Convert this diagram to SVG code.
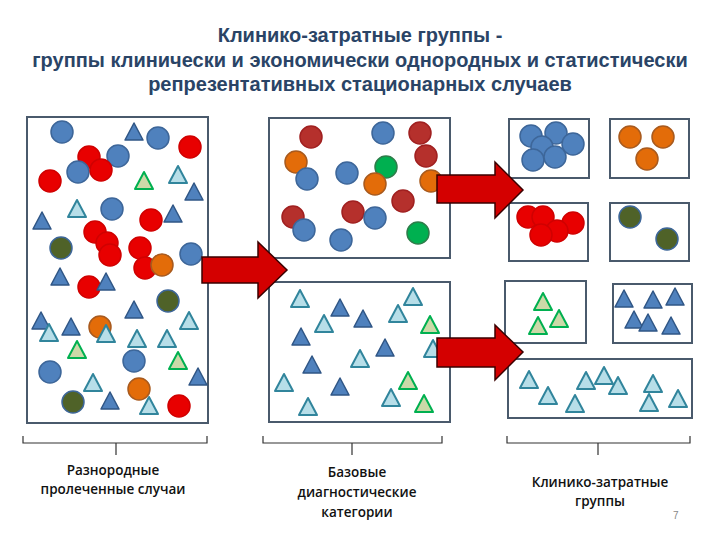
<svg xmlns="http://www.w3.org/2000/svg" xmlns:xlink="http://www.w3.org/1999/xlink" width="720" height="540" viewBox="0 0 720 540">
<style>
.title{font-family:"Liberation Sans",Arial,sans-serif;font-weight:bold;font-size:20px;fill:#2A4466;text-anchor:middle}
.lbl{font-family:"Open Sans","Liberation Sans",sans-serif;font-weight:600;font-size:13.5px;fill:#111;text-anchor:middle}
.box{fill:#fff;stroke:#4A5A6C;stroke-width:2}
.brace{fill:none;stroke:#333;stroke-width:1.2}
.arrow{fill:#D40000;stroke:#3A0000;stroke-width:1.5;stroke-linejoin:miter}
</style>
<defs>
<circle id="cb" r="11" fill="#4F81BD" stroke="#3D6699" stroke-width="1.5"/>
<circle id="cr" r="11" fill="#E80000" stroke="#D00000" stroke-width="1.5"/>
<circle id="cd" r="11" fill="#B5302C" stroke="#A02020" stroke-width="1.5"/>
<circle id="co" r="11" fill="#E36C09" stroke="#A85A1E" stroke-width="1.5"/>
<circle id="cg" r="11" fill="#00B050" stroke="#2E7D4A" stroke-width="1.5"/>
<circle id="cv" r="11" fill="#4F6228" stroke="#3D6699" stroke-width="1.5"/>
<polygon id="td" points="0,-9 9,8 -9,8" fill="#4F81BD" stroke="#2F5585" stroke-width="1.5" stroke-linejoin="round"/>
<polygon id="tl" points="0,-9 9,8 -9,8" fill="#B7DEE8" stroke="#31859C" stroke-width="2" stroke-linejoin="round"/>
<polygon id="tg" points="0,-9 9,8 -9,8" fill="#CCD9A8" stroke="#00B050" stroke-width="2" stroke-linejoin="round"/>
</defs>
<rect width="720" height="540" fill="#fff"/>

<g id="title">
<text class="title" x="360" y="42">Клинико-затратные группы -</text>
<text class="title" x="360" y="67">группы клинически и экономически однородных и статистически</text>
<text class="title" x="360" y="91">репрезентативных стационарных случаев</text>
</g>

<g id="panel1">
<rect class="box" x="27" y="117" width="181" height="306"/>
<use href="#cb" x="62" y="132"/>
<use href="#td" x="134" y="132"/>
<use href="#cb" x="158" y="138"/>
<use href="#cr" x="190" y="147"/>
<use href="#cr" x="89" y="157"/>
<use href="#cb" x="118" y="156"/>
<use href="#cb" x="78" y="172"/>
<use href="#cr" x="101" y="170"/>
<use href="#cr" x="50" y="181"/>
<use href="#tg" x="144" y="181"/>
<use href="#tl" x="178" y="175"/>
<use href="#td" x="194" y="192"/>
<use href="#tl" x="77" y="209"/>
<use href="#cb" x="112" y="209"/>
<use href="#cr" x="151" y="220"/>
<use href="#td" x="173" y="214"/>
<use href="#td" x="42" y="221"/>
<use href="#cr" x="95" y="232"/>
<use href="#cr" x="107" y="243"/>
<use href="#cr" x="110" y="255"/>
<use href="#cr" x="140" y="248"/>
<use href="#cv" x="61" y="248"/>
<use href="#cb" x="191" y="254"/>
<use href="#cr" x="145" y="268"/>
<use href="#co" x="162" y="265"/>
<use href="#td" x="60" y="277"/>
<use href="#cr" x="89" y="287"/>
<use href="#td" x="106" y="282"/>
<use href="#cv" x="168" y="301"/>
<use href="#td" x="134" y="310"/>
<use href="#tl" x="189" y="321"/>
<use href="#td" x="41" y="321"/>
<use href="#td" x="71" y="327"/>
<use href="#tl" x="49" y="333"/>
<use href="#co" x="100" y="327"/>
<use href="#tl" x="106" y="334"/>
<use href="#tl" x="137" y="339"/>
<use href="#tl" x="167" y="339"/>
<use href="#tg" x="77" y="350"/>
<use href="#cb" x="134" y="361"/>
<use href="#tg" x="178" y="361"/>
<use href="#cb" x="50" y="372"/>
<use href="#td" x="198" y="377"/>
<use href="#tl" x="93" y="383"/>
<use href="#co" x="139" y="389"/>
<use href="#cv" x="73" y="402"/>
<use href="#td" x="110" y="401"/>
<use href="#tl" x="149" y="406"/>
<use href="#cr" x="179" y="406"/>
</g>

<g id="panel2-top">
<rect class="box" x="269" y="118" width="181" height="140"/>
<use href="#cd" x="311" y="137"/>
<use href="#cb" x="383" y="133"/>
<use href="#cd" x="420" y="133"/>
<use href="#cd" x="426" y="156"/>
<use href="#co" x="296" y="162"/>
<use href="#cb" x="307" y="179"/>
<use href="#cb" x="347" y="173"/>
<use href="#cg" x="386" y="167"/>
<use href="#co" x="375" y="184"/>
<use href="#co" x="431" y="181"/>
<use href="#cd" x="403" y="201"/>
<use href="#cd" x="293" y="217"/>
<use href="#cb" x="304" y="230"/>
<use href="#cd" x="353" y="212"/>
<use href="#cb" x="375" y="218"/>
<use href="#cb" x="341" y="240"/>
<use href="#cg" x="418" y="233"/>
</g>

<g id="panel2-bottom">
<rect class="box" x="269" y="282" width="181" height="140"/>
<use href="#tl" x="300" y="299"/>
<use href="#td" x="340" y="308"/>
<use href="#tl" x="413" y="297"/>
<use href="#tl" x="324" y="324"/>
<use href="#td" x="363" y="319"/>
<use href="#tl" x="398" y="314"/>
<use href="#tg" x="430" y="325"/>
<use href="#td" x="301" y="337"/>
<use href="#td" x="385" y="348"/>
<use href="#tl" x="433" y="349"/>
<use href="#tl" x="360" y="359"/>
<use href="#td" x="312" y="365"/>
<use href="#tl" x="284" y="383"/>
<use href="#td" x="340" y="387"/>
<use href="#tg" x="408" y="381"/>
<use href="#tl" x="391" y="398"/>
<use href="#tl" x="308" y="407"/>
<use href="#tg" x="424" y="404"/>
</g>

<g id="group-blue-circles">
<rect class="box" x="509" y="119" width="80" height="59"/>
<use href="#cb" x="531" y="136"/>
<use href="#cb" x="556" y="133"/>
<use href="#cb" x="542" y="147"/>
<use href="#cb" x="573" y="144"/>
<use href="#cb" x="533" y="160"/>
<use href="#cb" x="555" y="157"/>
</g>
<g id="group-orange-circles">
<rect class="box" x="610" y="119" width="79" height="59"/>
<use href="#co" x="630" y="137"/>
<use href="#co" x="663" y="137"/>
<use href="#co" x="647" y="159"/>
</g>
<g id="group-red-circles">
<rect class="box" x="509" y="203" width="79" height="58"/>
<use href="#cr" x="528" y="217"/>
<use href="#cr" x="543" y="217"/>
<use href="#cr" x="573" y="223"/>
<use href="#cr" x="557" y="231"/>
<use href="#cr" x="541" y="235"/>
</g>
<g id="group-olive-circles">
<rect class="box" x="610" y="203" width="79" height="58"/>
<use href="#cv" x="630" y="217"/>
<use href="#cv" x="667" y="239"/>
</g>
<g id="group-green-triangles">
<rect class="box" x="505" y="281" width="81" height="62"/>
<use href="#tg" x="543" y="302"/>
<use href="#tg" x="559" y="319"/>
<use href="#tg" x="538" y="326"/>
</g>
<g id="group-blue-triangles">
<rect class="box" x="613" y="284" width="79" height="59"/>
<use href="#td" x="624" y="299"/>
<use href="#td" x="653" y="300"/>
<use href="#td" x="675" y="297"/>
<use href="#td" x="634" y="320"/>
<use href="#td" x="648" y="323"/>
<use href="#td" x="671" y="326"/>
</g>
<g id="group-lightblue-triangles">
<rect class="box" x="508" y="359" width="184" height="59"/>
<use href="#tl" x="529" y="380"/>
<use href="#tl" x="548" y="396"/>
<use href="#tl" x="586" y="381"/>
<use href="#tl" x="604" y="376"/>
<use href="#tl" x="618" y="386"/>
<use href="#tl" x="575" y="404"/>
<use href="#tl" x="653" y="384"/>
<use href="#tl" x="649" y="403"/>
<use href="#tl" x="678" y="399"/>
</g>

<g id="connectors">
<polygon class="arrow" points="202,257 258,257 258,242 287,270 258,298 258,283 202,283"/>
<polygon class="arrow" points="437,175 495,175 495,162 523,190 495,218 495,203 437,203"/>
<polygon class="arrow" points="437,338 495,338 495,325 523,352 495,380 495,367 437,367"/>
</g>

<g id="braces">
<path class="brace" d="M23,436 V443 H207 V436 M116,443 V455"/>
<path class="brace" d="M263,436 V443 H442 V436 M352,443 V455"/>
<path class="brace" d="M507,436 V443 H690 V436 M598,443 V455"/>
</g>

<g id="labels">
<text class="lbl" x="113" y="475">Разнородные</text>
<text class="lbl" x="113" y="494">пролеченные случаи</text>
<text class="lbl" x="357" y="477">Базовые</text>
<text class="lbl" x="357" y="497">диагностические</text>
<text class="lbl" x="357" y="517">категории</text>
<text class="lbl" x="600" y="487">Клинико-затратные</text>
<text class="lbl" x="600" y="506">группы</text>
<text x="673" y="519" font-family="Liberation Sans,sans-serif" font-size="10" fill="#888">7</text>
</g>
</svg>
